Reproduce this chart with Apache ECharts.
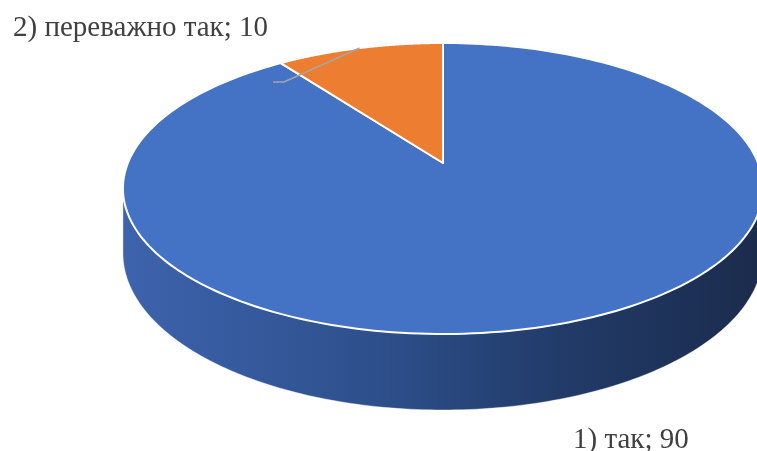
<!DOCTYPE html>
<html><head><meta charset="utf-8">
<script src="https://cdn.jsdelivr.net/npm/echarts@6/dist/echarts.min.js"></script>
<style>html,body{margin:0;padding:0;background:#fff;overflow:hidden}#c{width:757px;height:451px}</style>
</head><body><div id="c"></div><script>
// ---- data ----
const categories = ['1) так', '2) переважно так'];
const values = [90, 10];

// ---- 3D perspective geometry (layout only) ----
const P = {cx: 443, cy: 163, D: 5.706, F: 1798, Gy: 804.7, H: 357.7};
function proj(t, r, bottom) {
  const X = r * Math.cos(t), Z = r * Math.sin(t);
  const w = P.D + Z;
  return [P.cx + P.F * X / w, P.cy - P.Gy * Z / w + (bottom ? P.H / w : 0)];
}
const total = values.reduce((a, b) => a + b, 0);
function sliceAngles(i) {
  let before = 0;
  for (let k = 0; k < i; k++) before += values[k];
  const a0 = Math.PI / 2 - before / total * 2 * Math.PI;
  const a1 = Math.PI / 2 - (before + values[i]) / total * 2 * Math.PI;
  return [a1, a0];
}
function arcPts(from, to, r, bottom, n) {
  const pts = [];
  for (let j = 0; j <= n; j++) pts.push(proj(from + (to - from) * j / n, r, bottom));
  return pts;
}
const tEdge = Math.asin(1 / P.D);
const frontLo = -Math.PI + tEdge, frontHi = -tEdge;
const xL = proj(frontLo, 1, false)[0], xR = proj(frontHi, 1, false)[0];

const chart = echarts.init(document.getElementById('c'), null, {renderer: 'canvas'});

function wallItem(params, api) {
  const [a1, a0] = sliceAngles(params.dataIndex);
  const children = [];
  const grad = new echarts.graphic.LinearGradient(xL, 0, xR, 0, [
    {offset: 0, color: '#3d63ad'},
    {offset: 0.4, color: '#2d4f8b'},
    {offset: 0.7, color: '#213a67'},
    {offset: 1, color: '#1b2b4c'}
  ], true);
  for (const s of [-2 * Math.PI, 0, 2 * Math.PI]) {
    const lo = Math.max(a1, frontLo + s), hi = Math.min(a0, frontHi + s);
    if (hi > lo) {
      const top = arcPts(lo, hi, 1, false, 160);
      const bot = arcPts(hi, lo, 1, true, 160);
      children.push({type: 'polygon', shape: {points: top.concat(bot)},
        style: {fill: grad, stroke: 'rgba(255,255,255,0.5)', lineWidth: 0.8}});
    }
  }
  return {type: 'group', children};
}

const labelLayout = [
  {x: 573, y: 440, align: 'left'},
  {x: 268, y: 28, align: 'right', leader: [[284, 82], [273, 82]]}
];

function topItem(params, api) {
  const i = params.dataIndex;
  const [a1, a0] = sliceAngles(i);
  const apex = proj(0, 0, false);
  const pts = [apex].concat(arcPts(a0, a1, 1, false, 240));
  const children = [{
    type: 'polygon', shape: {points: pts},
    style: {fill: api.visual('color'), stroke: '#ffffff', lineWidth: 2, lineJoin: 'round'}
  }];
  const L = labelLayout[i];
  if (L.leader) {
    const m = proj((a0 + a1) / 2, 1, false);
    children.push({type: 'polyline', shape: {points: [m].concat(L.leader)},
      style: {stroke: '#a6a6a6', lineWidth: 1.5, fill: null}, z2: 10});
  }
  children.push({
    type: 'text', z2: 20,
    style: {x: L.x, y: L.y, text: categories[i] + '; ' + values[i],
      font: '29px "Liberation Serif", "Times New Roman", serif', fill: '#404040',
      textAlign: L.align, textVerticalAlign: 'middle', align: L.align, verticalAlign: 'middle'}
  });
  return {type: 'group', children};
}

const seriesData = values.map((v, i) => ({value: v, name: categories[i]}));

chart.setOption({
  animation: false,
  color: ['#4472C4', '#ED7D31'],
  series: [
    {type: 'custom', coordinateSystem: 'none', renderItem: wallItem, data: seriesData, z: 1,
     colorBy: 'data'},
    {type: 'custom', coordinateSystem: 'none', renderItem: topItem, data: seriesData, z: 2,
     colorBy: 'data'}
  ]
});
</script></body></html>
